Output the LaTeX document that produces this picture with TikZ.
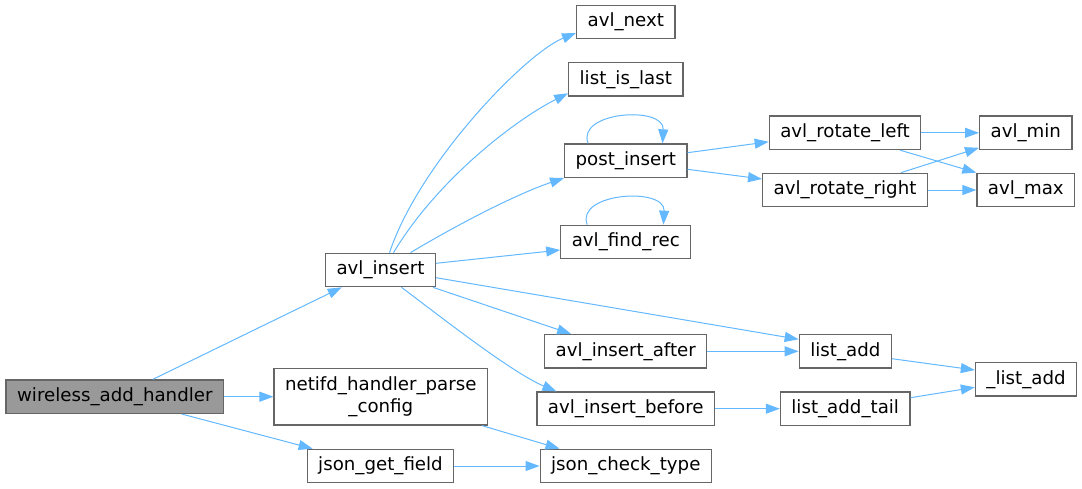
\documentclass[tikz,border=0pt]{standalone}
\usepackage{fontspec}
\setmainfont{DejaVu Sans}
\usetikzlibrary{positioning,arrows.meta}
\definecolor{edgeblue}{HTML}{63B8FF}
\definecolor{boxgray}{HTML}{666666}
\definecolor{rootfill}{HTML}{999999}

\begin{document}
\begin{tikzpicture}[
  x=1pt, y=-1pt,
  font=\fontsize{18.2}{21.7}\selectfont,
  fn/.style = {
    rectangle, draw=boxgray, line width=1.2pt, fill=white,
    minimum height=33.5pt, inner xsep=11pt, inner ysep=0pt, align=center,
  },
  root/.style = {fn, fill=rootfill},
  call/.style = {-{Triangle[length=14pt,width=10pt]}, draw=edgeblue, line width=1pt},
]
  \useasboundingbox (0,0) rectangle (1082,488);

  \node[root] (wah)    at (114.8,396.7) {wireless\_add\_handler};
  \node[fn]   (ins)    at (380.5,270)   {avl\_insert};
  \node[fn, minimum height=56.7pt] (nhp) at (380.8,396.7) {netifd\_handler\_parse\\\_config};
  \node[fn]   (jgf)    at (380.5,466)   {json\_get\_field};
  \node[fn]   (nxt)    at (625.8,22)    {avl\_next};
  \node[fn]   (last)   at (625.8,79.3)  {list\_is\_last};
  \node[fn]   (post)   at (625.8,160.7) {post\_insert};
  \node[fn]   (find)   at (625.8,242)   {avl\_find\_rec};
  \node[fn]   (after)  at (625.8,351.3) {avl\_insert\_after};
  \node[fn]   (before) at (625.8,408.7) {avl\_insert\_before};
  \node[fn]   (jct)    at (625.8,466)   {json\_check\_type};
  \node[fn]   (rotl)   at (845,132.8)   {avl\_rotate\_left};
  \node[fn]   (rotr)   at (845,190)     {avl\_rotate\_right};
  \node[fn]   (amin)   at (1025.8,132.8) {avl\_min};
  \node[fn]   (amax)   at (1025.8,190)  {avl\_max};
  \node[fn]   (ladd)   at (845.3,351.3) {list\_add};
  \node[fn]   (ltail)  at (845.2,408.7) {list\_add\_tail};
  \node[fn]   (lladd)  at (1026,379.3)  {\_list\_add};

  \draw[call] ([xshift=38pt]wah.north) -- ([xshift=-38.8pt]ins.south);
  \draw[call] (wah) -- (nhp);
  \draw[call] ([xshift=67pt]wah.south) -- ([xshift=6pt]jgf.north west);
  \draw[call] ([xshift=-6pt]nhp.south east) -- ([xshift=20pt]jct.north west);
  \draw[call] (jgf) -- (jct);

  \draw[call] ([xshift=9pt]ins.north) .. controls +(30,-90) and +(-50,20) .. ([yshift=-11pt]nxt.west);
  \draw[call] ([xshift=13pt]ins.north) .. controls +(45,-75) and +(-50,25) .. ([yshift=-14pt]last.west);
  \draw[call] ([xshift=30pt]ins.north) .. controls +(50,-30) and +(-45,15) .. (post.south west);
  \draw[call] ([yshift=6.7pt]ins.east) -- ([yshift=-8pt]find.west);
  \draw[call] ([yshift=-7.7pt]ins.east) -- ([yshift=12pt]ladd.west);
  \draw[call] ([xshift=-3pt]ins.south east) -- ([xshift=27pt]after.north west);
  \draw[call] ([xshift=21pt]ins.south) .. controls +(40,30) and +(-45,-19) .. ([xshift=20pt]before.north west);

  \draw[call] ([xshift=24pt]post.north west) .. controls +(-12,-32) and +(2,-38) .. ([xshift=-25pt]post.north east);
  \draw[call] ([xshift=27pt]find.north west) .. controls +(-12,-32) and +(2,-38) .. ([xshift=-28pt]find.north east);

  \draw[call] ([yshift=8pt]post.east) -- ([yshift=-9pt]rotl.west);
  \draw[call] ([yshift=-8.6pt]post.east) -- ([yshift=11pt]rotr.west);
  \draw[call] (rotl) -- (amin);
  \draw[call] ([xshift=55pt]rotl.south) -- (amax.north west);
  \draw[call] ([xshift=56pt]rotr.north) -- ([yshift=-15pt]amin.west);
  \draw[call] (rotr) -- (amax);

  \draw[call] (after) -- (ladd);
  \draw[call] (before) -- (ltail);
  \draw[call] ([yshift=-7.4pt]ladd.east) -- ([yshift=9.3pt]lladd.west);
  \draw[call] ([yshift=11pt]ltail.east) -- ([yshift=-8pt]lladd.west);
\end{tikzpicture}
\end{document}
